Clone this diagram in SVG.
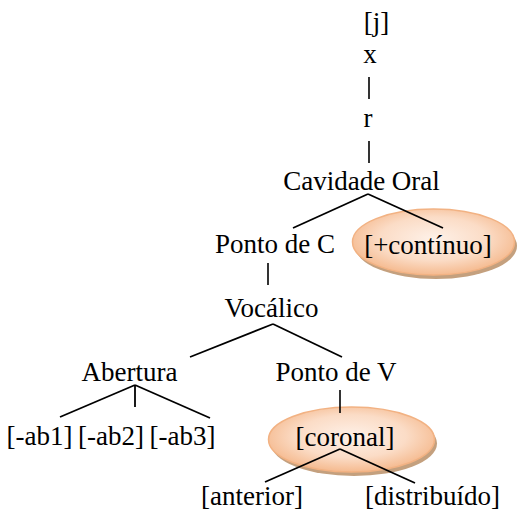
<svg xmlns="http://www.w3.org/2000/svg" width="517" height="513" viewBox="0 0 517 513">
<defs>
<radialGradient id="peach" cx="50%" cy="45%" r="55%">
<stop offset="0" stop-color="#fef1e8"/>
<stop offset="0.6" stop-color="#fbdcc6"/>
<stop offset="1" stop-color="#f5ba8f"/>
</radialGradient>
</defs>
<g id="ovals">
<g fill="#c4a07e">
<ellipse cx="436" cy="246" rx="81" ry="33"/>
<ellipse cx="354" cy="443.5" rx="83" ry="32.5"/>
</g>
<g fill="url(#peach)" stroke="#f2b283" stroke-width="1.5">
<ellipse cx="433.5" cy="242" rx="81" ry="33"/>
<ellipse cx="351.5" cy="439.5" rx="83" ry="32.5"/>
</g>
</g>
<g id="connectors" stroke="#000" stroke-width="1.8" fill="none">
<line x1="369" y1="77" x2="369" y2="99" stroke-width="1.6"/>
<line x1="369" y1="141" x2="369" y2="163" stroke-width="1.6"/>
<line x1="368" y1="194" x2="293" y2="228"/>
<line x1="368" y1="194" x2="443" y2="228"/>
<line x1="268" y1="263" x2="268" y2="285" stroke-width="1.6"/>
<line x1="273" y1="324" x2="190" y2="357"/>
<line x1="273" y1="324" x2="342" y2="357"/>
<line x1="135" y1="385" x2="60" y2="417"/>
<line x1="135" y1="385" x2="135" y2="407"/>
<line x1="135" y1="385" x2="210" y2="418"/>
<line x1="340" y1="390" x2="340" y2="413" stroke-width="1.6"/>
<line x1="340" y1="449" x2="265" y2="482"/>
<line x1="340" y1="449" x2="415" y2="483"/>
</g>
<g fill="#000" text-anchor="middle">
<g id="n-j"><text font-family="Liberation Serif" font-size="27" style="font-family:'Liberation Serif'" x="376.5" y="31">[j]</text></g>
<g id="n-x"><text font-family="Liberation Serif" font-size="27" style="font-family:'Liberation Serif'" x="370" y="63">x</text></g>
<g id="n-r"><text font-family="Liberation Serif" font-size="27" style="font-family:'Liberation Serif'" x="368" y="127">r</text></g>
<g id="n-cavidade"><text font-family="Liberation Serif" font-size="27" style="font-family:'Liberation Serif'" x="361.5" y="190">Cavidade Oral</text></g>
<g id="n-pontoC"><text font-family="Liberation Serif" font-size="27" style="font-family:'Liberation Serif'" x="275" y="253">Ponto de C</text></g>
<g id="n-continuo"><text font-family="Liberation Serif" font-size="27" style="font-family:'Liberation Serif'" x="428" y="254">[+contínuo]</text></g>
<g id="n-vocalico"><text font-family="Liberation Serif" font-size="27" style="font-family:'Liberation Serif'" x="271.5" y="317">Vocálico</text></g>
<g id="n-abertura"><text font-family="Liberation Serif" font-size="27" style="font-family:'Liberation Serif'" x="129.5" y="381">Abertura</text></g>
<g id="n-pontoV"><text font-family="Liberation Serif" font-size="27" style="font-family:'Liberation Serif'" x="336" y="381">Ponto de V</text></g>
<g id="n-ab1"><text font-family="Liberation Serif" font-size="27" style="font-family:'Liberation Serif'" x="39.5" y="445">[-ab1]</text></g>
<g id="n-ab2"><text font-family="Liberation Serif" font-size="27" style="font-family:'Liberation Serif'" x="111" y="445">[-ab2]</text></g>
<g id="n-ab3"><text font-family="Liberation Serif" font-size="27" style="font-family:'Liberation Serif'" x="182.5" y="445">[-ab3]</text></g>
<g id="n-coronal"><text font-family="Liberation Serif" font-size="27" style="font-family:'Liberation Serif'" x="345" y="446">[coronal]</text></g>
<g id="n-anterior"><text font-family="Liberation Serif" font-size="27" style="font-family:'Liberation Serif'" x="252" y="505">[anterior]</text></g>
<g id="n-distribuido"><text font-family="Liberation Serif" font-size="27" style="font-family:'Liberation Serif'" x="432.5" y="505">[distribuído]</text></g>
</g>
</svg>
